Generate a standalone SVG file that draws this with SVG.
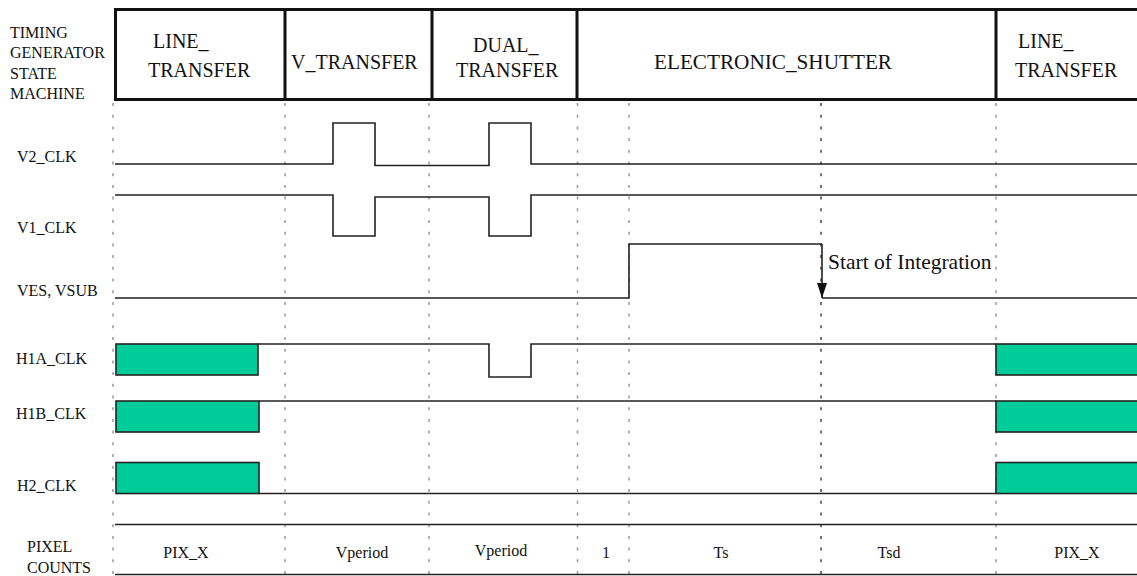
<svg xmlns="http://www.w3.org/2000/svg" width="1137" height="576" viewBox="0 0 1137 576" font-family="'Liberation Serif', 'Times New Roman', serif">
<style>
text{font-family:'Liberation Serif','Times New Roman',serif;fill:#111}
.hdr{font-size:20px}
.lbl{font-size:16px}
.cnt{font-size:16px;text-anchor:middle}
.box{fill:none;stroke:#111;stroke-width:3}
.sig{fill:none;stroke:#222;stroke-width:1.6}
.grn{fill:#00cc99;stroke:#222;stroke-width:1.6}
.dot{fill:none;stroke:#999;stroke-width:1.5;stroke-dasharray:3 8.7}
.dotd{fill:none;stroke:#444;stroke-width:1.5;stroke-dasharray:3 8.7}
.rule{fill:none;stroke:#222;stroke-width:1.6}
</style>
<defs>
<marker id="arr" markerWidth="15" markerHeight="10" refX="15" refY="5" orient="auto" markerUnits="userSpaceOnUse" viewBox="0 0 15 10">
<path d="M0,0 L15,5 L0,10 Z" fill="#111"/>
</marker>
</defs>
<rect width="1137" height="576" fill="#fff"/>

<g id="header">
<text class="lbl" x="10" y="38">TIMING</text>
<text class="lbl" x="10" y="58">GENERATOR</text>
<text class="lbl" x="10" y="79">STATE</text>
<text class="lbl" x="10" y="99">MACHINE</text>
<path class="box" d="M1140,9.5 H115.5 V99.5 H1140 M285,9.5 V99.5 M432,9.5 V99.5 M577,9.5 V99.5 M996,9.5 V99.5"/>
</g>
<g id="state-line-transfer-1">
<text class="hdr" x="153" y="48">LINE_</text>
<text class="hdr" x="148" y="77">TRANSFER</text>
</g>
<g id="state-v-transfer">
<text class="hdr" x="291" y="69">V_TRANSFER</text>
</g>
<g id="state-dual-transfer">
<text class="hdr" x="473" y="52">DUAL_</text>
<text class="hdr" x="456" y="77">TRANSFER</text>
</g>
<g id="state-electronic-shutter">
<text class="hdr" x="654" y="69" textLength="238" lengthAdjust="spacingAndGlyphs">ELECTRONIC_SHUTTER</text>
</g>
<g id="state-line-transfer-2">
<text class="hdr" x="1018" y="48">LINE_</text>
<text class="hdr" x="1015" y="77">TRANSFER</text>
</g>

<g id="gridlines">
<path class="dot" d="M113,103 V576 M285,103 V576 M429,103 V576 M577.5,103 V576 M629,103 V576 M996,103 V576"/>
<path class="dotd" d="M821,103 V576"/>
</g>

<g id="labels">
<text class="lbl" x="17" y="162">V2_CLK</text>
<text class="lbl" x="17" y="233">V1_CLK</text>
<text class="lbl" x="17" y="296">VES, VSUB</text>
<text class="lbl" x="16" y="364">H1A_CLK</text>
<text class="lbl" x="16" y="419">H1B_CLK</text>
<text class="lbl" x="17" y="491">H2_CLK</text>
<text class="lbl" x="27" y="552">PIXEL</text>
<text class="lbl" x="27" y="573">COUNTS</text>
</g>

<g id="connectors">
<path id="v2" class="sig" d="M115,164 H333 V123 H375 V165.5 H489 V123 H531 V164 H1137"/>
<path id="v1" class="sig" d="M115,195 H333 V236 H375 V197 H489 V236 H531 V195 H1137"/>
<path id="ves" class="sig" d="M115,298 H629 V244 H822 M822,298 H1137"/>
<path id="ves-arrow" class="sig" d="M822,244 V298" marker-end="url(#arr)"/>
<path id="h1a" class="sig" d="M258,344 H489 V377 H531 V344 H996"/>
<rect class="grn" x="116" y="344" width="142" height="31"/>
<rect class="grn" x="996" y="344" width="150" height="31"/>
<path id="h1b" class="sig" d="M259,401 H996"/>
<rect class="grn" x="116" y="401" width="143" height="31"/>
<rect class="grn" x="996" y="401" width="150" height="31"/>
<path id="h2" class="sig" d="M259,493.5 H996"/>
<rect class="grn" x="116" y="462.5" width="143" height="31"/>
<rect class="grn" x="996" y="462.5" width="150" height="31"/>
<path class="rule" d="M115,524.5 H1137 M115,574.5 H1137"/>
</g>

<g id="annotation">
<text x="828" y="269" style="font-size:21.5px">Start of Integration</text>
</g>

<g id="pixel-counts">
<text class="cnt" x="186" y="558">PIX_X</text>
<text class="cnt" x="362" y="558">Vperiod</text>
<text class="cnt" x="501" y="556">Vperiod</text>
<text class="cnt" x="606" y="558">1</text>
<text class="cnt" x="721" y="558">Ts</text>
<text class="cnt" x="889" y="558">Tsd</text>
<text class="cnt" x="1077" y="558">PIX_X</text>
</g>
</svg>
